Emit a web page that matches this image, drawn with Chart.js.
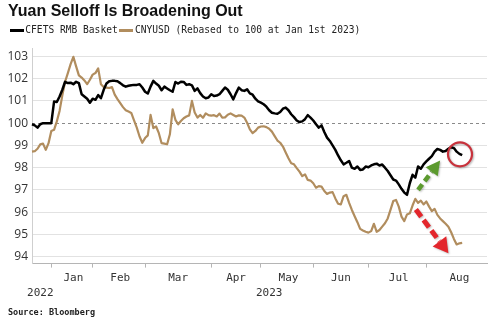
<!DOCTYPE html>
<html><head><meta charset="utf-8">
<script src="https://cdn.jsdelivr.net/npm/chart.js@4.4.1/dist/chart.umd.min.js"></script>
<style>html,body{margin:0;padding:0;background:#fff;}canvas{display:block;}</style>
</head><body>
<canvas id="c" width="500" height="328"></canvas>
<script>
// ---- data ----
const monthNames = ['Dec','Jan','Feb','Mar','Apr','May','Jun','Jul','Aug'];
const monthSlots = [7,15,19,24,18,19,20,21,23]; // trading-day slots per month (Aug includes empty space at right)
const yearNames = ['2022','2023'];
const yTicks = [94,95,96,97,98,99,100,101,102,103];
const refValue = 100;

const cfets = [
99.95,99.9,99.8,99.95,100.0,100.0,100.0,100.0,100.97,100.95,
101.2,101.5,101.86,101.8,101.82,101.75,101.86,101.8,101.3,101.2,
101.1,100.92,101.1,101.05,101.26,101.12,101.5,101.78,101.88,101.9,
101.9,101.88,101.8,101.7,101.64,101.68,101.7,101.72,101.72,101.75,
101.6,101.41,101.33,101.64,101.9,101.78,101.68,101.48,101.64,101.56,
101.48,101.41,101.85,101.78,101.86,101.85,101.72,101.75,101.7,101.45,
101.56,101.35,101.2,101.12,101.15,101.3,101.22,101.24,101.3,101.45,
101.6,101.5,101.3,101.07,101.35,101.6,101.48,101.45,101.52,101.34,
101.28,101.1,100.98,100.92,100.85,100.74,100.58,100.47,100.44,100.42,
100.5,100.65,100.7,100.58,100.4,100.27,100.12,100.05,100.08,100.18,
100.36,100.25,100.12,99.95,99.8,99.9,99.6,99.35,99.2,99.0,
98.8,98.55,98.33,98.15,98.22,98.3,98.0,97.95,98.05,97.9,
97.92,98.05,98.02,98.1,98.15,98.18,98.1,98.14,98.0,97.85,
97.66,97.47,97.42,97.25,97.05,96.88,96.78,97.3,97.68,97.55,
98.05,97.95,98.15,98.28,98.4,98.52,98.72,98.84,98.8,98.72,
98.75,98.85,98.92,98.88,98.72,98.62,98.56];

const cnyusd = [
98.72,98.74,98.85,99.05,99.08,98.8,99.1,99.65,99.7,100.08,
100.55,101.25,101.86,102.25,102.65,102.98,102.55,102.15,102.05,101.92,
101.75,101.95,102.18,102.25,102.46,101.75,101.62,101.6,101.58,101.62,
101.28,101.08,100.9,100.72,100.58,100.52,100.46,100.12,99.8,99.4,
99.12,99.33,99.45,100.37,99.78,99.85,99.55,99.1,99.08,99.05,
99.5,100.62,100.15,99.95,100.1,100.22,100.3,100.35,101.0,100.48,
100.25,100.37,100.24,100.44,100.36,100.34,100.36,100.3,100.43,100.25,
100.26,100.38,100.44,100.37,100.3,100.35,100.34,100.25,100.02,99.72,
99.55,99.65,99.8,99.85,99.86,99.82,99.75,99.62,99.42,99.22,
99.12,98.95,98.68,98.42,98.2,98.15,97.98,97.82,97.62,97.7,
97.45,97.42,97.3,97.1,97.17,97.15,96.95,96.82,96.88,96.9,
96.62,96.38,96.35,96.72,96.78,96.42,96.1,95.82,95.55,95.25,
95.18,95.12,95.08,95.15,95.48,95.12,95.2,95.35,95.5,95.72,
96.1,96.5,96.55,96.25,95.8,95.6,95.9,95.95,96.3,96.6,
96.42,96.52,96.35,96.48,96.25,96.05,96.15,95.88,95.72,95.6,
95.48,95.35,95.1,94.8,94.55,94.6,94.62];

// annotation anchors in data units (category index, value)
const circleAnchor = {x: 155.2, y: 98.6};
const greenArrow = {from: {x: 140, y: 97.0}, to: {x: 148, y: 98.32}};
const redArrow = {from: {x: 139.2, y: 96.12}, to: {x: 151, y: 94.15}};

// ---- derived axis structure ----
const labels = [];
const monthStart = [];
monthNames.forEach((m, i) => { monthStart.push(labels.length); for (let d = 0; d < monthSlots[i]; d++) labels.push(m); });
const tickText = {};
monthNames.forEach((m, i) => { if (monthSlots[i] >= 10) tickText[Math.round(monthStart[i] + monthSlots[i] / 2)] = [m]; });
const yearSpans = [[0, monthStart[1] - 1], [monthStart[1], labels.length - 1]];
yearSpans.forEach((s, i) => {
  const k = Math.round((s[0] + s[1]) / 2);
  tickText[k] = [(tickText[k] || [''])[0], yearNames[i]];
});
const boundaries = new Set(monthStart.slice(1));

// legend line samples (wider than the legend box so the text sits close to the line)
function lineSample(color) {
  const c = document.createElement('canvas');
  c.width = 14; c.height = 3;
  const g = c.getContext('2d'); g.fillStyle = color; g.fillRect(0, 0, 14, 3);
  return c;
}

function drawArrow(ctx, x1, y1, x2, y2, color, width, headLen, headW, dash) {
  const a = Math.atan2(y2 - y1, x2 - x1);
  const bx = x2 - headLen * Math.cos(a), by = y2 - headLen * Math.sin(a);
  ctx.save();
  ctx.shadowColor = 'rgba(0,0,0,0.25)'; ctx.shadowBlur = 2; ctx.shadowOffsetX = 1; ctx.shadowOffsetY = 1;
  ctx.strokeStyle = color; ctx.lineWidth = width; ctx.setLineDash(dash); ctx.lineCap = 'butt';
  ctx.beginPath(); ctx.moveTo(x1, y1); ctx.lineTo(bx, by); ctx.stroke();
  ctx.setLineDash([]); ctx.fillStyle = color;
  ctx.beginPath(); ctx.moveTo(x2, y2);
  ctx.lineTo(bx + headW / 2 * Math.sin(a), by - headW / 2 * Math.cos(a));
  ctx.lineTo(bx - headW / 2 * Math.sin(a), by + headW / 2 * Math.cos(a));
  ctx.closePath(); ctx.fill();
  ctx.restore();
}

const overlay = {
  id: 'overlay',
  beforeDatasetsDraw(chart) {
    const {ctx, chartArea, scales: {y}} = chart;
    const py = Math.round(y.getPixelForValue(refValue)) + 0.5;
    ctx.save();
    ctx.strokeStyle = '#8a8a8a'; ctx.lineWidth = 1; ctx.setLineDash([3, 3]);
    ctx.beginPath(); ctx.moveTo(chartArea.left, py); ctx.lineTo(chartArea.right, py); ctx.stroke();
    ctx.restore();
  },
  afterDatasetsDraw(chart) {
    const {ctx, scales: {x, y}} = chart;
    const P = p => [x.getPixelForValue(p.x), y.getPixelForValue(p.y)];
    const [gx1, gy1] = P(greenArrow.from), [gx2, gy2] = P(greenArrow.to);
    drawArrow(ctx, gx1, gy1, gx2, gy2, '#5c9a2e', 4.5, 14, 15, [7, 4]);
    const [rx1, ry1] = P(redArrow.from), [rx2, ry2] = P(redArrow.to);
    drawArrow(ctx, rx1, ry1, rx2, ry2, '#e3262c', 5, 15, 17, [9, 4]);
    const [cx, cy] = P(circleAnchor);
    ctx.save();
    ctx.shadowColor = 'rgba(0,0,0,0.3)'; ctx.shadowBlur = 2; ctx.shadowOffsetX = 1; ctx.shadowOffsetY = 1;
    ctx.strokeStyle = '#c8323c'; ctx.lineWidth = 2.2;
    ctx.beginPath(); ctx.arc(cx, cy, 12, 0, Math.PI * 2); ctx.stroke();
    ctx.restore();
  }
};

new Chart(document.getElementById('c'), {
  type: 'line',
  data: {
    labels: labels,
    datasets: [
      {label: 'CFETS RMB Basket', data: cfets, borderColor: '#000000', backgroundColor: '#000000', borderWidth: 2.5,
       pointRadius: 0, pointStyle: lineSample('#000000'), tension: 0, borderJoinStyle: 'round'},
      {label: 'CNYUSD (Rebased to 100 at Jan 1st 2023)', data: cnyusd, borderColor: '#b18d5e', backgroundColor: '#b18d5e', borderWidth: 2.2,
       pointRadius: 0, pointStyle: lineSample('#b18d5e'), tension: 0, borderJoinStyle: 'round'}
    ]
  },
  options: {
    responsive: false, animation: false, events: [],
    layout: {padding: {left: 8, right: 13, top: 0, bottom: 6}},
    scales: {
      x: {
        type: 'category', offset: false,
        grid: {drawOnChartArea: false, drawTicks: true, tickLength: 4, tickWidth: 1,
               tickColor: c => boundaries.has(c.index) ? '#b5b5b5' : 'rgba(0,0,0,0)'},
        border: {color: '#b5b5b5', width: 1},
        ticks: {autoSkip: false, maxRotation: 0, minRotation: 0, padding: 3, color: '#333',
                font: {family: 'DejaVu Sans Mono', size: 11, lineHeight: 1.35},
                callback: (v, i) => tickText[i] || ''}
      },
      xTop: {
        type: 'category', position: 'top', display: true, offset: false,
        grid: {display: false, drawTicks: false}, border: {display: false}, ticks: {display: false},
        afterFit: s => { s.height = 3.3; }
      },
      y: {
        min: 93.69, max: 103.35,
        afterBuildTicks: s => { s.ticks = yTicks.map(v => ({value: v})); },
        afterFit: s => { s.width = 24; },
        grid: {drawTicks: false, lineWidth: 1, color: c => (c.tick && c.tick.value === refValue) ? 'rgba(0,0,0,0)' : '#e2e2e2'},
        border: {color: '#cfcfcf', width: 1},
        ticks: {padding: 4, color: '#333', font: {family: 'Open Sans', size: 12}}
      }
    },
    plugins: {
      tooltip: {enabled: false},
      title: {display: true, text: 'Yuan Selloff Is Broadening Out', align: 'start', color: '#111',
              font: {family: 'Liberation Sans', size: 16, weight: 'bold', lineHeight: 1.2}, padding: {top: 2, bottom: 0}},
      subtitle: {display: true, text: 'Source: Bloomberg', position: 'bottom', align: 'start', color: '#222',
                 font: {family: 'DejaVu Sans Mono', size: 8.5, weight: 'bold', lineHeight: 1.2}, padding: {top: 4.5, bottom: 4}},
      legend: {display: true, position: 'top', align: 'start',
               labels: {usePointStyle: true, pointStyleWidth: 8, boxHeight: 3, padding: 4.5,
                        color: '#222', font: {family: 'DejaVu Sans Mono', size: 9.6}}}
    }
  },
  plugins: [overlay]
});
</script>
</body></html>
